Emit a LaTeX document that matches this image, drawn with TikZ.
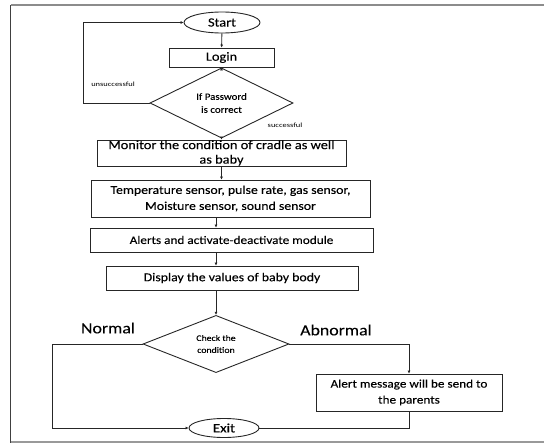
\documentclass[tikz,border=0pt]{standalone}
\usepackage{fontspec}
\setmainfont{Carlito}
\newfontfamily\boxfont[FakeStretch=1.15,FakeBold=0.15]{Carlito}
\newfontfamily\smallfont[FakeStretch=1.3]{Carlito}
\usetikzlibrary{shapes.geometric,arrows.meta}
\begin{document}
\begin{tikzpicture}[x=1pt,y=-1pt,
  every node/.style={font=\boxfont},
  line/.style={draw=black!85,line width=0.9pt},
  arr/.style={line,-{Latex[length=3pt,width=3pt]}},
  boxn/.style={draw=black!85,line width=0.9pt,rectangle,inner sep=0pt,align=center,font=\boxfont\fontsize{12}{16}\selectfont},
  ovaln/.style={draw=black!85,line width=0.9pt,ellipse,inner sep=0pt,font=\boxfont\fontsize{12.5}{14}\selectfont},
  decn/.style={draw=black!85,line width=0.9pt,diamond,inner sep=0pt,align=center,font=\boxfont\fontsize{9.5}{13}\selectfont},
  small/.style={font=\smallfont\fontsize{6.5}{8}\selectfont},
  big/.style={font=\boxfont\fontsize{15.5}{17}\selectfont}]
\useasboundingbox (0,0) rectangle (544,444);
% frame
\draw[black!45,line width=1.5pt] (544,5) -- (10.5,5);
\draw[black!75,line width=1.5pt] (10.5,5) -- (10.5,443);
\draw[black!40,line width=1.5pt] (10.5,442) -- (544,442);
% nodes
\node[ovaln,minimum width=76pt,minimum height=21pt] (start) at (222,22.5) {Start};
\node[boxn,minimum width=105pt,minimum height=19pt,font=\boxfont\fontsize{12.5}{14}\selectfont] (login) at (221.5,57.5) {Login};
\node[decn,minimum width=143pt,minimum height=48pt] (pw) at (221.5,103) {If Password\\is correct};
\node[boxn,minimum width=249pt,minimum height=26pt,inner ysep=-6pt,font=\boxfont\fontsize{12.5}{14.5}\selectfont] (mon) at (221.5,153) {Monitor the condition of cradle as well\\as baby};
\node[boxn,minimum width=279pt,minimum height=37pt] (temp) at (230.5,198.5) {Temperature sensor, pulse rate, gas sensor,\\Moisture sensor, sound sensor};
\node[boxn,minimum width=283pt,minimum height=24pt,font=\boxfont\fontsize{11.5}{13}\selectfont] (alerts) at (231.5,240) {Alerts and activate-deactivate module};
\node[boxn,minimum width=252pt,minimum height=24pt] (disp) at (232,278) {Display the values of baby body};
\node[decn,minimum width=146pt,minimum height=52pt,font=\boxfont\fontsize{8.5}{12}\selectfont] (chk) at (216,344) {Check the\\condition};
\node[boxn,minimum width=186pt,minimum height=37pt,font=\boxfont\fontsize{11.5}{16}\selectfont] (alm) at (409,392.5) {Alert message will be send to\\the parents};
\node[ovaln,minimum width=70pt,minimum height=19pt,font=\boxfont\fontsize{13}{14}\selectfont] (exit) at (224,428) {Exit};
% labels
\node[small] (lu) at (113,84) {unsuccessful};
\node[small] (ls) at (285,125) {successful};
\node[big] (ln) at (108,328) {Normal};
\node[big] (la) at (336,330) {Abnormal};
% coordinates
\coordinate (loopc) at (83,103);
\coordinate (normc) at (52,344);
% connectors
\draw[arr] (start) -- (login);
\draw[arr] (login) -- (pw);
\draw[arr] (pw) -- (mon);
\draw[arr] (mon.south) -- (mon.south |- temp.north);
\draw[arr] (temp.south -| chk.north) -- (alerts.north -| chk.north);
\draw[arr] (alerts.south -| chk.north) -- (disp.north -| chk.north);
\draw[arr] (disp.south -| chk.north) -- (chk.north);
\draw[arr] (pw.west) -- (loopc) |- (start.west);
\draw[arr] (chk.west) -- (normc) |- (exit.west);
\draw[arr] (chk.east) -| (alm.north);
\draw[line] (alm.south) |- (exit.east);
\end{tikzpicture}
\end{document}
